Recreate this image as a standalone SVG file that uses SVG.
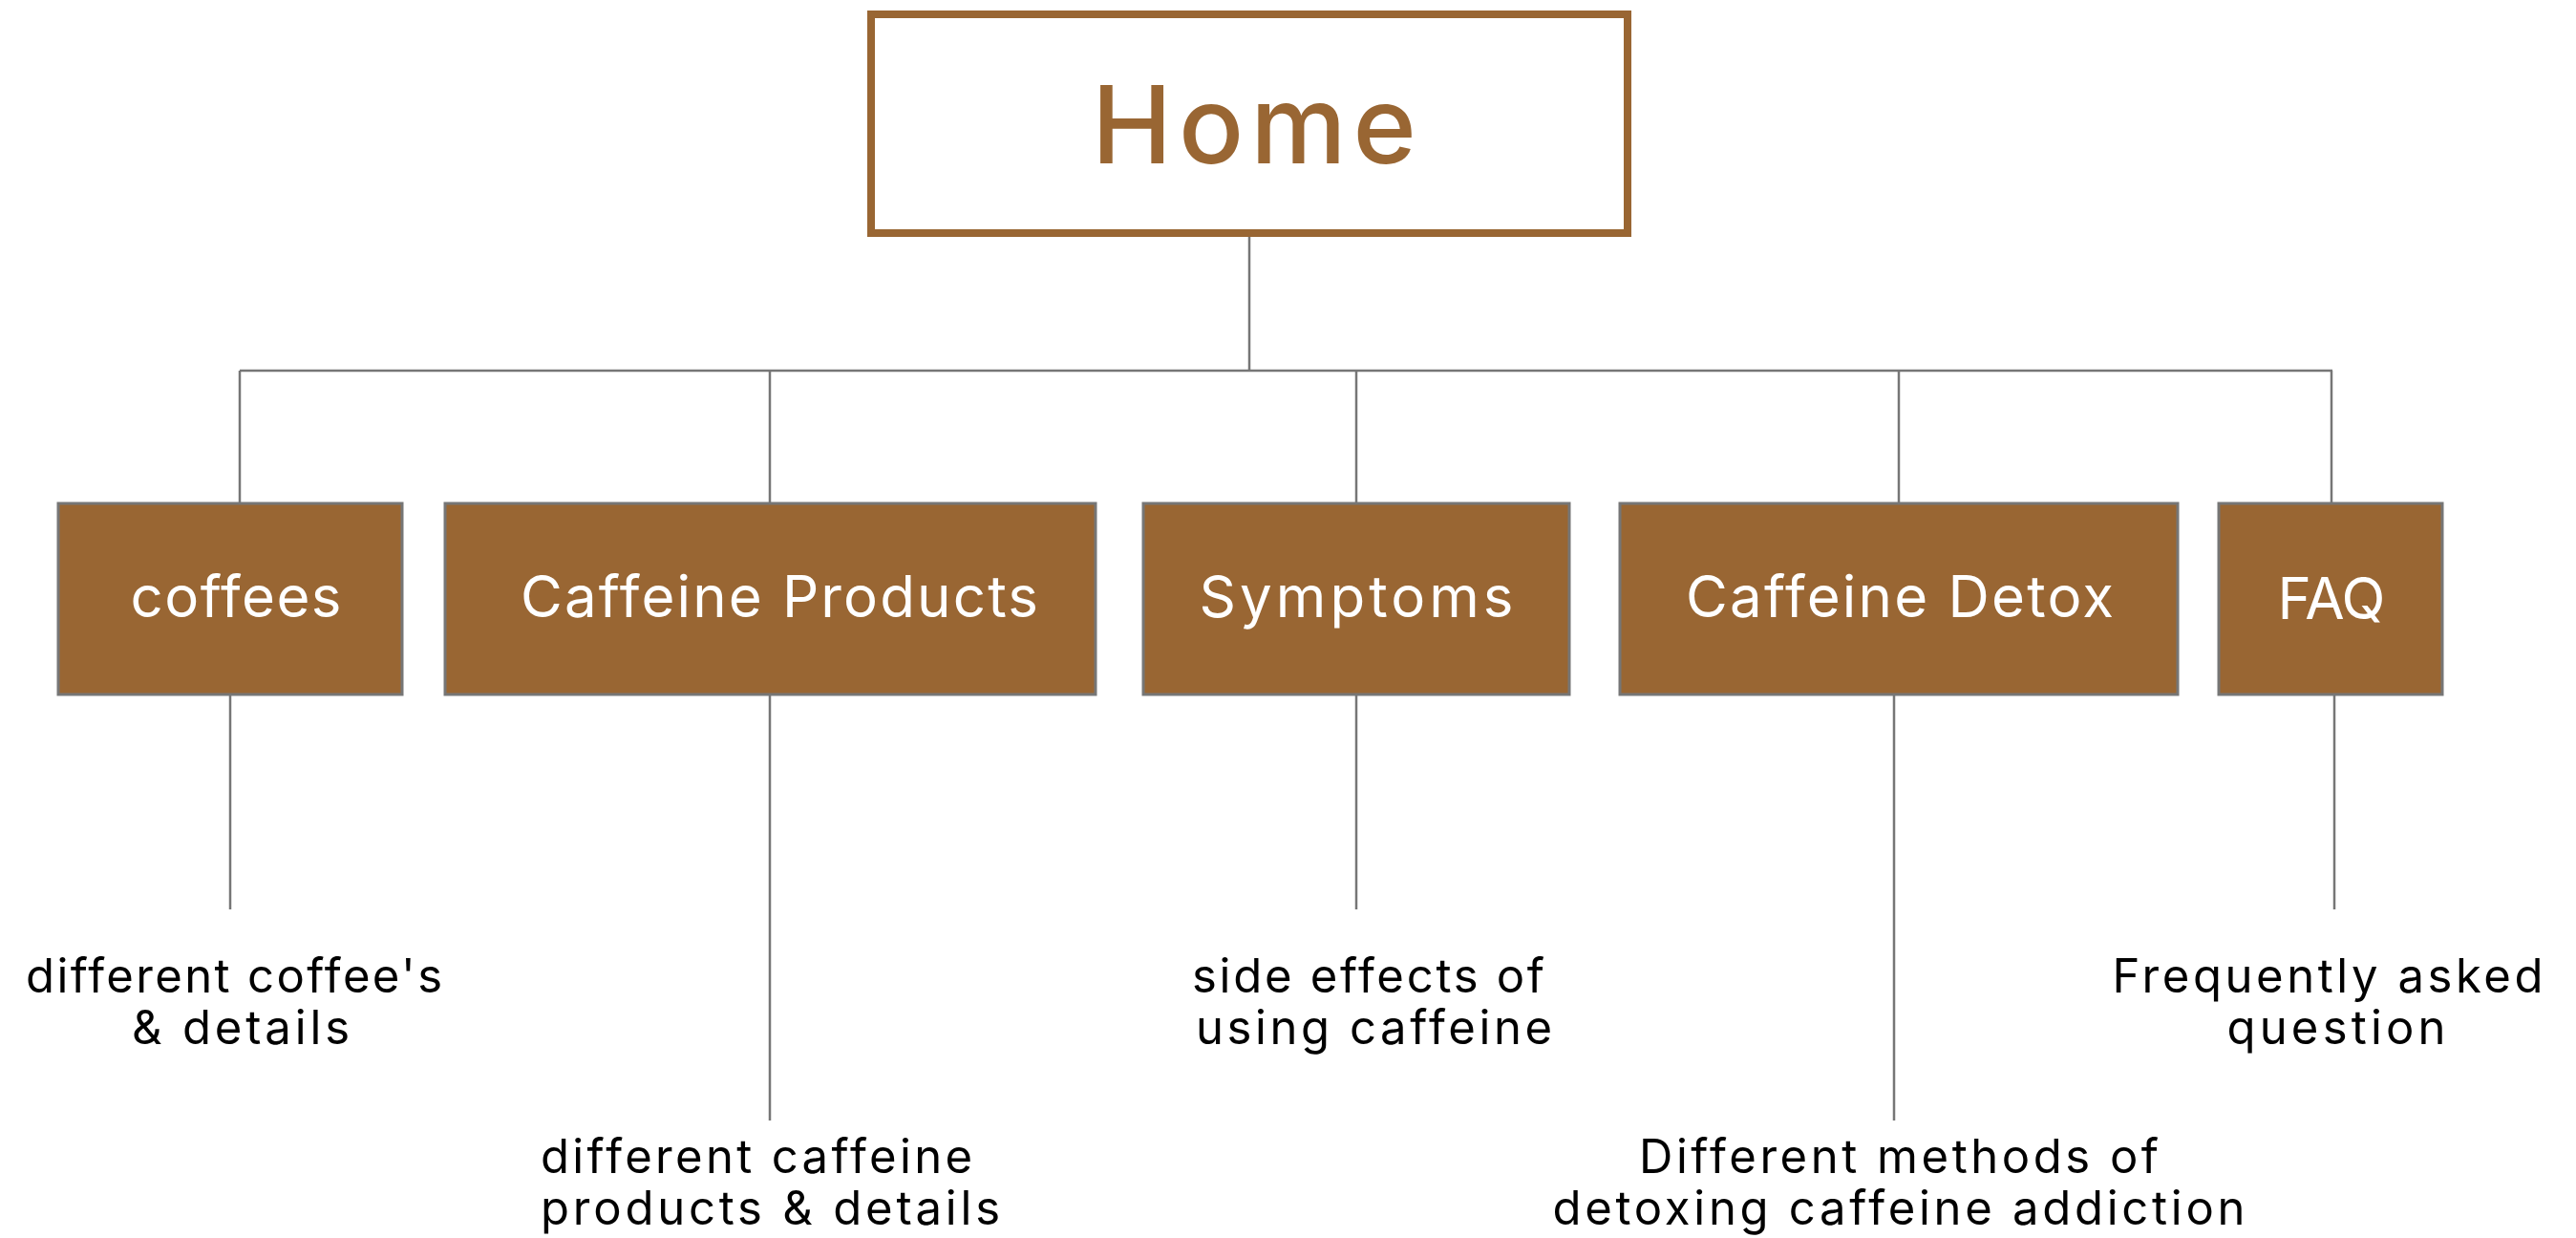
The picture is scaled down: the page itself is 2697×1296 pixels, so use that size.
<svg xmlns="http://www.w3.org/2000/svg" width="2697" height="1296" viewBox="0 0 2697 1296">
<style>
.bg{fill:#ffffff}
.home{fill:#ffffff;stroke:#996633;stroke-width:8}
.node{fill:#996633;stroke:#767676;stroke-width:3}
.conn{stroke:#767676;stroke-width:2.5;fill:none}
.ht{font-family:Inter,"Liberation Sans",sans-serif;font-size:113px;font-weight:500;fill:#996633;text-anchor:middle}
.nt{font-family:Inter,"Liberation Sans",sans-serif;font-size:60px;fill:#ffffff;text-anchor:middle}
.dt{font-family:Inter,"Liberation Sans",sans-serif;font-size:49px;fill:#000000;text-anchor:middle}
.dl{text-anchor:start}
</style>
<rect class="bg" x="0" y="0" width="2697" height="1296"/>
<g id="connectors">
<line class="conn" x1="1308" y1="248" x2="1308" y2="388"/>
<line class="conn" x1="251" y1="388" x2="2442" y2="388"/>
<line class="conn" x1="251" y1="388" x2="251" y2="526"/>
<line class="conn" x1="806" y1="388" x2="806" y2="526"/>
<line class="conn" x1="1420" y1="388" x2="1420" y2="526"/>
<line class="conn" x1="1988" y1="388" x2="1988" y2="526"/>
<line class="conn" x1="2441" y1="388" x2="2441" y2="526"/>
<line class="conn" x1="241" y1="728" x2="241" y2="952"/>
<line class="conn" x1="806" y1="728" x2="806" y2="1173"/>
<line class="conn" x1="1420" y1="728" x2="1420" y2="952"/>
<line class="conn" x1="1983" y1="728" x2="1983" y2="1173"/>
<line class="conn" x1="2444" y1="728" x2="2444" y2="952"/>
</g>
<g id="home">
<rect class="home" x="912" y="15" width="792" height="229"/>
<text class="ht" x="1313" y="171" textLength="340">Home</text>
</g>
<g id="coffees">
<rect class="node" x="61" y="527" width="360" height="200"/>
<text class="nt" x="247" y="646" textLength="221">coffees</text>
</g>
<g id="caffeine-products">
<rect class="node" x="466" y="527" width="681" height="200"/>
<text class="nt" x="816" y="646" textLength="542">Caffeine Products</text>
</g>
<g id="symptoms">
<rect class="node" x="1197" y="527" width="446" height="200"/>
<text class="nt" x="1420" y="646" textLength="329">Symptoms</text>
</g>
<g id="caffeine-detox">
<rect class="node" x="1696" y="527" width="584" height="200"/>
<text class="nt" x="1989" y="646" textLength="448">Caffeine Detox</text>
</g>
<g id="faq">
<rect class="node" x="2323" y="527" width="234" height="200"/>
<text class="nt" x="2441" y="648" textLength="113">FAQ</text>
</g>
<g id="desc-coffees">
<text class="dt" x="245" y="1039" textLength="436">different coffee's</text>
<text class="dt" x="252" y="1093" textLength="228">&amp; details</text>
</g>
<g id="desc-caffeine-products">
<text class="dt dl" x="566" y="1228" textLength="452">different caffeine</text>
<text class="dt dl" x="566" y="1282" textLength="481">products &amp; details</text>
</g>
<g id="desc-symptoms">
<text class="dt dl" x="1248" y="1039" textLength="369">side effects of</text>
<text class="dt dl" x="1252" y="1093" textLength="373">using caffeine</text>
</g>
<g id="desc-caffeine-detox">
<text class="dt" x="1988" y="1228" textLength="544">Different methods of</text>
<text class="dt" x="1988" y="1282" textLength="725">detoxing caffeine addiction</text>
</g>
<g id="desc-faq">
<text class="dt" x="2437" y="1039" textLength="451">Frequently asked</text>
<text class="dt" x="2446" y="1093" textLength="229">question</text>
</g>
</svg>
